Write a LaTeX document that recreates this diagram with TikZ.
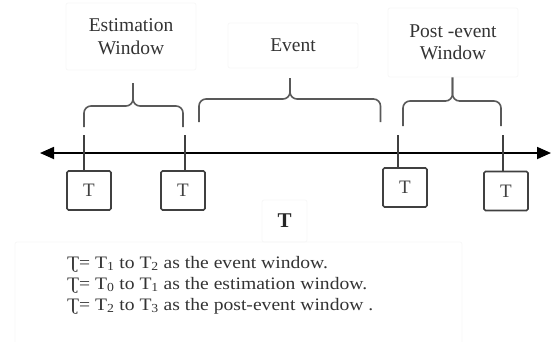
\documentclass[tikz,border=0pt]{standalone}
\usepackage{fontspec}
\setmainfont{Liberation Serif}
\newfontfamily\legendfont{Liberation Serif}[FakeStretch=1.12]
\usetikzlibrary{arrows.meta,positioning}

\tikzset{
	tbox/.style={draw=black!75, line width=1.6pt, rounded corners=1.5pt, minimum width=44pt, minimum height=39pt, inner sep=0pt, font=\fontsize{19}{19}\selectfont, text=black!75},
	faint/.style={draw=black!3, line width=0.8pt, rounded corners=2pt, inner sep=0pt},
	wlabel/.style={faint, align=center, font=\fontsize{19.5}{22.5}\selectfont, text=black!80},
	tickline/.style={draw=black!75, line width=1.6pt},
	bracepath/.style={draw=black!65, line width=1.6pt, rounded corners=7pt},
	legend/.style={anchor=base west, inner sep=0pt, font=\legendfont\fontsize{17.5}{21}\selectfont, text=black!80}
}

\begin{document}
\begin{tikzpicture}[x=1pt,y=-1pt]

	\useasboundingbox (0,0) rectangle (551,341);

	% time axis
	\coordinate (axis left) at (40,153);
	\coordinate (axis right) at (551,153);
	\draw[line width=1.8pt, {Triangle[length=14pt,width=12pt]}-{Triangle[length=14pt,width=12pt]}] (axis left) -- (axis right);

	% boxes under the axis
	\node[tbox] (t0) at (89,190.5) {T};
	\node[tbox] (t1) at (183,190.5) {T};
	\node[tbox] (t2) at (405,187.5) {T};
	\node[tbox] (t3) at (506,191) {T};

	% ticks
	\coordinate (s0) at (84,135);
	\coordinate (s1) at (185,135);
	\coordinate (s2) at (398,135);
	\coordinate (s3) at (503,135);
	\foreach \i in {0,...,3}
		\draw[tickline] (s\i) -- (s\i |- t\i.north);

	% braces
	\foreach \l/\r/\b/\m/\tx/\ty in {84/183/127/106/133/83, 199/380.5/122/99/290/78, 403/501/126/101/452.5/77}
	{
		\draw[bracepath] (\l,\b) -- (\l,\m) -- (\tx,\m) -- (\tx,\ty);
		\draw[bracepath] (\r,\b) -- (\r,\m) -- (\tx,\m) -- (\tx,\ty);
	}

	% window labels
	\node[wlabel, minimum width=130pt, minimum height=67pt] (estimation) at (131,36.5) {Estimation\\Window};
	\node[wlabel, minimum width=130pt, minimum height=45pt] (event) at (293,45.5) {Event};
	\node[wlabel, minimum width=130pt, minimum height=69pt] (post) at (453,42.5) {Post -event\\Window};

	\node[faint, minimum width=45pt, minimum height=42pt, font=\fontsize{21}{21}\selectfont\bfseries, text=black!85] (tlabel) at (284.5,221) {T};

	% legend
	\draw[faint] (15,242) rectangle (462,350);
	\node[legend] (line1) at (67,268) {Ʈ= T\textsubscript{1} to T\textsubscript{2} as the event window.};
	\node[legend] (line2) at (67,289) {Ʈ= T\textsubscript{0} to T\textsubscript{1} as the estimation window.};
	\node[legend] (line3) at (67,310) {Ʈ= T\textsubscript{2} to T\textsubscript{3} as the post-event window .};

\end{tikzpicture}
\end{document}
